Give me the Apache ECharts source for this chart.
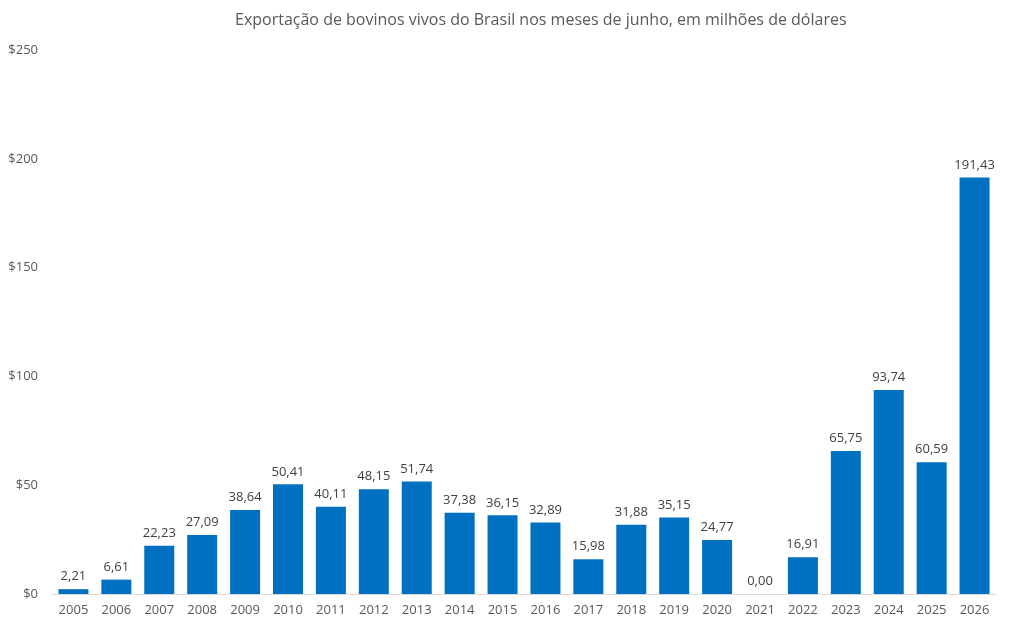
<!DOCTYPE html>
<html>
<head>
<meta charset="utf-8">
<script src="https://cdn.jsdelivr.net/npm/echarts@6/dist/echarts.min.js"></script>
<style>
  html, body { margin: 0; padding: 0; background: #fff; }
  #chart { width: 1028px; height: 630px; }
</style>
</head>
<body>
<div id="chart"></div>
<script>
const years = ['2005', '2006', '2007', '2008', '2009', '2010', '2011', '2012', '2013', '2014', '2015',
  '2016', '2017', '2018', '2019', '2020', '2021', '2022', '2023', '2024', '2025', '2026']
const exportValues = [2.21, 6.61, 22.23, 27.09, 38.64, 50.41, 40.11, 48.15, 51.74, 37.38, 36.15,
  32.89, 15.98, 31.88, 35.15, 24.77, 0.00, 16.91, 65.75, 93.74, 60.59, 191.43]
const yTicks = [0, 50, 100, 150, 200, 250]

const font = '"Open Sans", "Noto Sans", sans-serif'

const chart = echarts.init(document.getElementById('chart'))
chart.setOption({
  animation: false,
  backgroundColor: '#ffffff',
  title: {
    text: 'Exportação de bovinos vivos do Brasil nos meses de junho, em milhões de dólares',
    left: 230,
    top: 7,
    textStyle: { color: '#595959', fontSize: 16, fontWeight: 'normal', fontFamily: font }
  },
  grid: { left: 52, right: 32, top: 50, bottom: 36 },
  xAxis: {
    type: 'category',
    data: years,
    axisLine: { lineStyle: { color: '#d9d9d9', width: 1 } },
    axisTick: { show: false },
    axisLabel: { color: '#595959', fontSize: 13, fontFamily: font, margin: 10 }
  },
  yAxis: {
    type: 'value',
    min: yTicks[0],
    max: yTicks[yTicks.length - 1],
    interval: 50,
    splitLine: { show: false },
    axisLine: { show: false },
    axisTick: { show: false },
    axisLabel: {
      color: '#595959', fontSize: 13, fontFamily: font, margin: 14,
      formatter: v => '$' + v
    }
  },
  series: [{
    type: 'bar',
    data: exportValues,
    barWidth: 30,
    itemStyle: { color: '#0070C0' },
    label: {
      show: true,
      position: 'top',
      distance: 6,
      color: '#404040',
      fontSize: 13,
      fontFamily: font,
      formatter: p => p.value.toFixed(2).replace('.', ',')
    }
  }]
})
</script>
</body>
</html>
